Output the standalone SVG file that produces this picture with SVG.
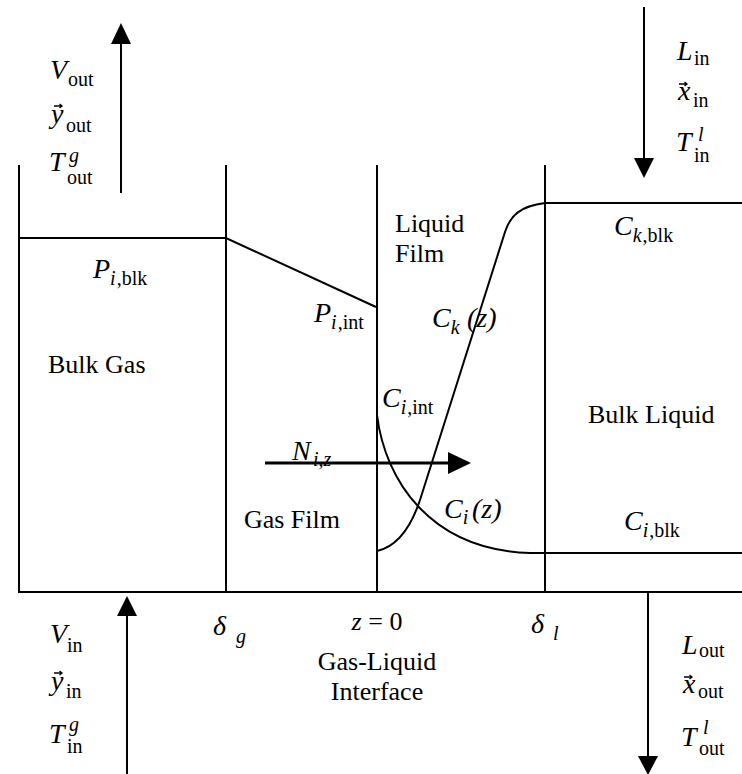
<svg xmlns="http://www.w3.org/2000/svg" width="742" height="774" viewBox="0 0 742 774">
<style>
.ln{fill:none;stroke:#000;stroke-width:2}
.rm{font-family:"Liberation Serif","Times New Roman",serif;font-size:26px;fill:#000}
.it{font-family:"Liberation Serif","Times New Roman",serif;font-size:28px;font-style:italic;fill:#000}
.sb{font-size:20px;font-style:normal}
.si{font-size:20px;font-style:italic}
.ah{fill:#000}
.vec{fill:none;stroke:#000;stroke-width:1.3}
</style>
<defs>
  <path id="vecmark" class="vec" d="M0,0 H8 M5.5,-2 L8,0 L5.5,2"/>
</defs>
<rect width="742" height="774" fill="#fff"/>
<g id="connectors">
  <path class="ln" d="M19,165 V592 H742"/>
  <path class="ln" d="M226,165 V592"/>
  <path class="ln" d="M377,165 V592"/>
  <path class="ln" d="M545,165 V592"/>
  <path class="ln" d="M19,238 H226 L376,307"/>
  <path class="ln" d="M377,551 C395,547 410,530 420,500 L505,232 C510,216 520,206 545,203 H742"/>
  <path class="ln" d="M377,415 C385,480 430,550 530,553 H742"/>
  <g id="arrow-vout"><path class="ln" d="M121,193 V40"/><path class="ah" d="M121,23 L131,44 L111,44 Z"/></g>
  <g id="arrow-lin"><path class="ln" d="M644,7 V162"/><path class="ah" d="M644,178 L654,158 L634,158 Z"/></g>
  <g id="arrow-vin"><path class="ln" d="M127,774 V612"/><path class="ah" d="M127,596 L137,616 L117,616 Z"/></g>
  <g id="arrow-lout"><path class="ln" d="M648,592 V760"/><path class="ah" d="M648,775 L658,756 L638,756 Z"/></g>
  <g id="arrow-flux"><path d="M265,463 H452" stroke="#000" stroke-width="3" fill="none"/><path class="ah" d="M471,463 L448,452 L448,474 Z"/></g>
</g>
<g id="gas-out">
  <text class="it" x="50" y="79">V<tspan class="sb" x="68" dy="7">out</tspan></text>
  <text class="it" x="51" y="123">y<tspan class="sb" x="66" dy="9">out</tspan></text><use href="#vecmark" x="54" y="106"/>
  <text class="it" x="49" y="171">T<tspan class="si" x="69" dy="-9">g</tspan><tspan class="sb" x="67" dy="22">out</tspan></text>
</g>
<g id="liquid-in">
  <text class="it" x="677" y="60">L<tspan class="sb" x="694" dy="5">in</tspan></text>
  <text class="it" x="678" y="100">x<tspan class="sb" x="693" dy="7">in</tspan></text><use href="#vecmark" x="679" y="84"/>
  <text class="it" x="676" y="151">T<tspan class="si" x="698" dy="-10">l</tspan><tspan class="sb" x="694" dy="21">in</tspan></text>
</g>
<g id="bulk-gas">
  <text class="it" x="93" y="278">P<tspan class="si" dy="7">i</tspan><tspan class="sb" dx="1">,blk</tspan></text>
  <text class="rm" x="48" y="373">Bulk Gas</text>
</g>
<g id="gas-film">
  <text class="it" x="314" y="322">P<tspan class="si" dy="7">i</tspan><tspan class="sb" dx="1">,int</tspan></text>
  <text class="it" x="292" y="460">N<tspan class="si" x="313" dy="6">i,z</tspan></text>
  <text class="rm" x="340" y="528" text-anchor="end">Gas Film</text>
</g>
<g id="liquid-film">
  <text class="rm" x="395" y="232">Liquid</text>
  <text class="rm" x="395" y="262">Film</text>
  <text class="it" x="432" y="327">C<tspan class="si" dy="7">k</tspan><tspan x="467" dy="-7">(z)</tspan></text>
  <text class="it" x="382" y="407">C<tspan class="si" dy="7">i</tspan><tspan class="sb" dx="1">,int</tspan></text>
  <text class="it" x="444" y="518">C<tspan class="si" dy="6">i</tspan><tspan x="472" dy="-6">(z)</tspan></text>
</g>
<g id="bulk-liquid">
  <text class="it" x="614" y="235">C<tspan class="si" dy="7">k</tspan><tspan class="sb" dx="1">,blk</tspan></text>
  <text class="rm" x="588" y="423">Bulk Liquid</text>
  <text class="it" x="624" y="530">C<tspan class="si" dy="7">i</tspan><tspan class="sb" dx="1">,blk</tspan></text>
</g>
<g id="axis">
  <text class="it" x="213" y="635" font-size="31">δ<tspan class="si" x="236" dy="8" font-size="24">g</tspan></text>
  <text class="rm" x="377" y="630" text-anchor="middle"><tspan font-style="italic">z</tspan> = 0</text>
  <text class="rm" x="377" y="670" text-anchor="middle">Gas-Liquid</text>
  <text class="rm" x="377" y="700" text-anchor="middle">Interface</text>
  <text class="it" x="531" y="633" font-size="31">δ<tspan class="si" x="553" dy="7" font-size="24">l</tspan></text>
</g>
<g id="gas-in">
  <text class="it" x="50" y="643">V<tspan class="sb" x="67" dy="9">in</tspan></text>
  <text class="it" x="51" y="690">y<tspan class="sb" x="66" dy="8">in</tspan></text><use href="#vecmark" x="54" y="673"/>
  <text class="it" x="49" y="743">T<tspan class="si" x="69" dy="-12">g</tspan><tspan class="sb" x="67" dy="22">in</tspan></text>
</g>
<g id="liquid-out">
  <text class="it" x="682" y="654">L<tspan class="sb" x="699" dy="3">out</tspan></text>
  <text class="it" x="683" y="693">x<tspan class="sb" x="698" dy="5">out</tspan></text><use href="#vecmark" x="684" y="677"/>
  <text class="it" x="681" y="746">T<tspan class="si" x="703" dy="-12">l</tspan><tspan class="sb" x="699" dy="21">out</tspan></text>
</g>
</svg>
